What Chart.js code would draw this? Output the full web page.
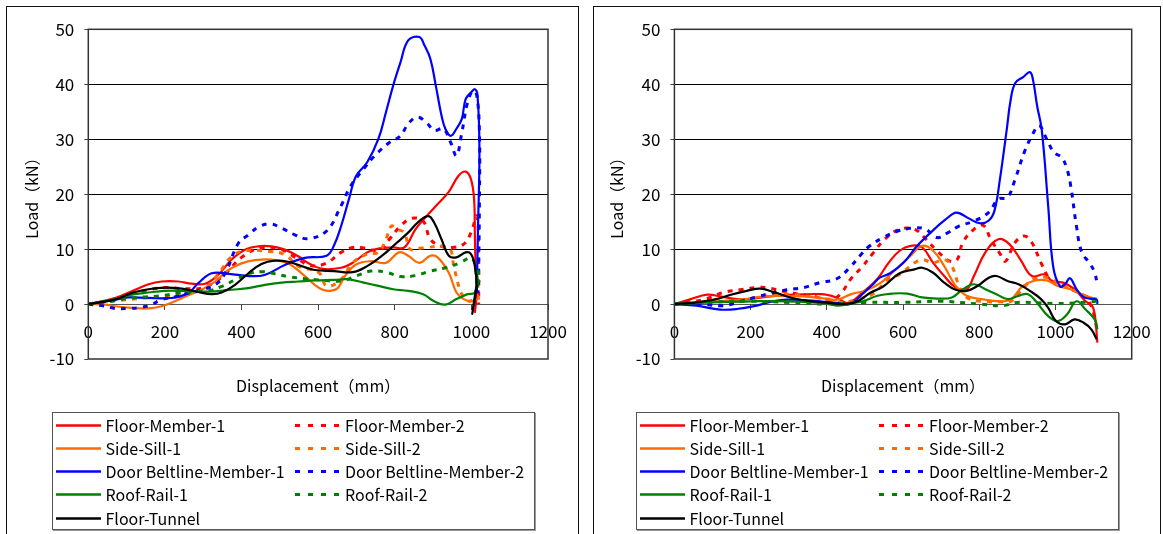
<!DOCTYPE html>
<html>
<head>
<meta charset="utf-8">
<script src="https://cdn.jsdelivr.net/npm/chart.js@4.4.1/dist/chart.umd.min.js"></script>
<style>
  html, body { margin: 0; padding: 0; background: #fff; }
  body { width: 1163px; height: 534px; position: relative; overflow: hidden;
         font-family: "Noto Sans CJK JP", "Noto Sans", sans-serif; }
  .frame { position: absolute; top: 6px; height: 560px; border: 1px solid #111; border-bottom: none; }
  .plot { position: absolute; top: 0; }
  .legend { position: absolute; top: 412px; width: 481px; height: 116px; border: 1px solid #555;
            background: #fff; box-shadow: 1px 1px 0 #999; }
  .item { position: absolute; height: 23px; line-height: 23px; font-size: 16px; color: #000; white-space: nowrap; }
  .item svg { position: absolute; left: 0; top: 0; }
  .item span { position: absolute; top: 0; }
</style>
</head>
<body>
<div class="frame" style="left:6px; width:571px;"></div>
<div class="frame" style="left:593px; width:566px;"></div>
<canvas id="chartLeft" class="plot" width="580" height="450" style="left:0px;"></canvas>
<canvas id="chartRight" class="plot" width="583" height="450" style="left:580px;"></canvas>
<div id="legendLeft" class="legend" style="left:52px;"></div>
<div id="legendRight" class="legend" style="left:636px;"></div>

<script>
// Axis ticks
const displacementTicks = [0, 200, 400, 600, 800, 1000, 1200];
const loadTicks = [-10, 0, 10, 20, 30, 40, 50];

// Series names, colours and line styles
const seriesNames = ['Floor-Member-1', 'Floor-Member-2', 'Side-Sill-1', 'Side-Sill-2',
  'Door Beltline-Member-1', 'Door Beltline-Member-2', 'Roof-Rail-1', 'Roof-Rail-2', 'Floor-Tunnel'];
const seriesColors = ['#ff0000', '#ff0000', '#ff6a00', '#ff6a00', '#0000ff', '#0000ff', '#008000', '#008000', '#000000'];
const seriesDashed = [false, true, false, true, false, true, false, true, false];

// Left chart: [displacement mm, load kN]
const leftFloorMember1 = [[0,0],[70,1.1],[122,2.6],[157,3.6],[191,4.1],[235,4.1],[270,3.7],[305,3.7],[339,5.3],[374,8.1],[409,9.9],[444,10.5],[478,10.5],[513,9.9],[548,8.7],[573,7.5],[612,6.4],[660,6.6],[690,7.5],[728,9.4],[757,10.1],[796,10.3],[825,10.3],[854,13.6],[883,16.0],[912,18.2],[941,20.4],[966,23.3],[985,24.1],[999,22.7],[1007,19.1],[1009,13.0],[1011,6.9],[1014,2.0],[1009,-1.6]];
const leftFloorMember2 = [[0,0],[50,0.6],[100,1.6],[150,2.5],[200,3.0],[250,2.8],[300,3.0],[350,5.0],[400,8.5],[450,10.2],[500,10.0],[540,8.5],[580,7.0],[620,7.4],[660,9.4],[690,10.3],[720,10.2],[760,9.8],[786,11.8],[815,14.2],[844,15.6],[874,15.1],[893,11.8],[922,10.5],[951,10.3],[980,10.9],[999,13.0],[1014,16.0],[1019,8.0],[1019,0]];
const leftSideSill1 = [[0,0],[44,-0.1],[70,-0.4],[113,-0.7],[157,-0.8],[191,-0.4],[226,0.5],[261,1.6],[296,2.6],[331,4.1],[366,6.2],[400,7.4],[435,8.0],[478,8.1],[522,7.4],[557,5.6],[591,3.5],[612,2.6],[631,2.4],[651,2.9],[670,5.1],[699,7.2],[738,7.8],[777,7.5],[811,9.4],[835,8.8],[864,7.5],[893,8.8],[912,8.5],[941,5.7],[961,2.1],[980,0.9],[999,0.5],[1014,0.9]];
const leftSideSill2 = [[0,0],[50,0.5],[100,0.8],[150,1.1],[200,1.3],[250,1.7],[305,2.9],[348,6.3],[366,8.1],[400,9.6],[470,9.6],[513,9.0],[548,6.9],[602,5.7],[622,3.3],[660,4.5],[690,7.5],[728,9.1],[757,9.4],[777,11.8],[791,14.2],[806,13.6],[825,13.0],[840,10.0],[870,10.2],[940,10.2],[955,6.5],[975,1.8],[995,0.5],[1015,1.5],[1020,0.5]];
const leftDoorBeltline1 = [[0,0],[78,0.9],[105,1.2],[217,1.1],[261,2.0],[287,3.8],[322,5.6],[367,5.5],[420,5.1],[460,5.3],[513,7.1],[565,8.4],[622,8.8],[641,10.6],[660,14.2],[680,19.0],[699,23.3],[728,25.8],[757,30.0],[777,34.9],[796,39.8],[815,44.0],[835,48.0],[864,48.6],[878,47.0],[893,44.6],[907,39.8],[922,34.3],[932,31.9],[946,30.6],[961,31.9],[975,33.7],[985,37.3],[999,38.5],[1009,39.1],[1016,38.0],[1021,28.0],[1017,13.0],[1014,2.0]];
const leftDoorBeltline2 = [[0,0],[44,-0.4],[70,-0.8],[104,-0.8],[139,-0.6],[165,-0.1],[191,0.8],[226,1.3],[261,2.0],[296,2.6],[331,3.5],[357,5.6],[392,11.1],[418,12.6],[444,14.0],[474,14.6],[505,13.8],[539,12.6],[573,11.9],[622,13.3],[660,17.9],[685,21.5],[719,24.6],[748,27.0],[786,29.4],[815,30.6],[835,32.8],[859,34.0],[883,33.0],[903,31.6],[927,31.9],[946,29.4],[961,27.0],[975,31.2],[990,36.7],[1004,38.8],[1014,38.0],[1021,31.2],[1021,19.0],[1019,7.0],[1017,2.0]];
const leftRoofRail1 = [[0,0],[70,0.9],[113,1.7],[157,2.1],[200,2.4],[244,2.4],[287,2.3],[331,2.3],[374,2.6],[418,2.9],[461,3.5],[505,3.9],[548,4.1],[591,4.3],[641,4.4],[680,4.5],[719,3.9],[757,3.3],[796,2.7],[835,2.4],[874,1.8],[903,0.5],[932,-0.1],[961,0.9],[990,1.8],[1009,2.1],[1015,5.0],[1018,3.0]];
const leftRoofRail2 = [[0,0],[62,0.5],[104,1.0],[148,1.3],[191,1.5],[235,2.0],[278,2.3],[313,2.4],[348,3.2],[383,4.4],[418,5.5],[452,5.9],[487,5.5],[522,5.0],[565,4.6],[600,4.4],[660,4.2],[699,5.1],[738,6.0],[777,5.8],[815,5.0],[854,5.2],[893,6.0],[932,6.6],[970,7.5],[999,8.4],[1010,7.0],[1014,4.0],[1018,6.0],[1020,4.0]];
const leftFloorTunnel = [[0,0],[70,0.8],[113,2.0],[157,2.7],[200,3.0],[244,2.8],[287,2.2],[322,1.8],[348,2.1],[383,3.5],[418,5.6],[452,7.3],[487,7.9],[522,7.7],[557,6.9],[591,6.2],[641,6.0],[690,5.8],[728,6.9],[767,8.8],[806,11.2],[835,13.0],[864,15.1],[888,16.0],[903,14.8],[922,11.8],[941,8.8],[961,8.5],[985,9.4],[999,9.1],[1009,6.9],[1014,3.3],[1009,0.9],[1002,-1.8],[1008,1.0],[1014,3.5]];

// Right chart: [displacement mm, load kN]
const rightFloorMember1 = [[0,0],[43,0.9],[86,1.7],[120,1.4],[164,0.9],[191,0.9],[240,1.3],[289,1.6],[386,1.8],[425,1.2],[455,0.2],[494,2.1],[533,4.6],[562,7.5],[591,9.7],[620,10.6],[650,10.3],[679,7.5],[708,5.1],[738,3.0],[767,2.7],[786,5.1],[816,9.4],[850,11.8],[879,10.9],[908,8.1],[938,5.1],[972,5.4],[991,4.2],[1020,3.9],[1050,2.7],[1079,0.5],[1099,-0.7],[1110,-7.0]];
const rightFloorMember2 = [[0,0],[43,0.4],[86,1.0],[128,2.1],[173,2.6],[216,3.0],[240,3.0],[299,2.1],[357,1.5],[416,0.9],[440,2.2],[461,4.4],[494,6.9],[523,9.4],[552,11.8],[591,13.6],[630,13.6],[660,11.8],[689,9.7],[723,7.8],[742,8.1],[757,11.2],[786,13.6],[811,14.3],[830,11.8],[855,9.1],[869,7.8],[894,11.2],[918,12.4],[938,11.2],[962,7.5],[986,4.5],[1011,3.6],[1040,2.7],[1069,1.8],[1094,-0.4],[1110,-5.0]];
const rightSideSill1 = [[0,0],[77,0.4],[164,0.7],[234,1.4],[278,1.5],[339,1.4],[382,1.1],[426,0.8],[464,1.8],[503,2.5],[542,3.9],[581,6.3],[620,8.8],[650,10.6],[679,9.7],[708,6.9],[738,3.3],[767,1.5],[806,0.9],[855,0.5],[884,0.9],[913,3.2],[942,4.2],[977,4.3],[1006,3.3],[1040,2.7],[1079,1.5],[1108,0.9]];
const rightSideSill2 = [[0,0],[100,0.3],[200,1.0],[250,1.8],[300,1.8],[400,0.9],[440,0.3],[480,0.9],[520,1.8],[562,4.5],[591,5.4],[630,7.5],[650,8.1],[679,7.5],[708,8.1],[728,6.9],[747,3.3],[767,1.2],[806,0.5],[855,0.4],[884,0.5],[913,2.7],[942,4.5],[981,4.8],[1011,3.6],[1050,2.4],[1089,1.2],[1108,0.9]];
const rightDoorBeltline1 = [[0,0],[58,-0.3],[120,-1.0],[164,-0.9],[216,-0.3],[251,0.4],[295,0.8],[339,0.7],[382,0.5],[426,0.2],[461,0.0],[496,2.0],[520,3.5],[539,4.8],[566,5.6],[601,7.5],[636,10.5],[680,13.5],[710,15.3],[736,16.6],[749,16.5],[775,15.5],[802,14.7],[825,15.2],[840,17.0],[854,22.6],[872,31.7],[882,37.0],[894,40.2],[915,41.3],[933,42.2],[941,40.8],[952,36.0],[964,31.7],[981,17.7],[994,6.8],[1012,3.2],[1025,3.6],[1038,4.7],[1056,2.6],[1073,1.3],[1090,1.0],[1108,0.8],[1110,0.0]];
const rightDoorBeltline2 = [[0,0],[60,0.1],[128,-0.3],[180,0.6],[216,1.3],[251,1.9],[295,2.6],[339,3.0],[382,3.9],[426,4.6],[461,6.7],[487,8.8],[513,10.6],[548,12.1],[583,13.2],[611,13.7],[630,13.9],[660,13.6],[689,12.1],[718,13.0],[747,14.2],[786,15.1],[825,16.7],[850,19.1],[874,19.4],[894,22.7],[918,27.6],[938,30.6],[957,32.5],[977,30.0],[996,27.6],[1016,26.7],[1030,24.6],[1040,21.5],[1055,14.2],[1069,9.4],[1089,7.5],[1103,5.7],[1110,3.3]];
const rightRoofRail1 = [[0,0],[100,0.3],[200,0.5],[300,0.5],[400,0.1],[430,-0.3],[470,0.2],[494,0.5],[533,1.5],[572,1.9],[611,1.9],[650,1.2],[689,1.0],[728,1.2],[757,2.7],[786,3.6],[816,2.7],[845,1.8],[874,0.9],[903,1.5],[928,1.8],[952,0.2],[981,-2.2],[1006,-3.1],[1030,-1.9],[1055,0.5],[1079,-1.0],[1103,-2.8],[1110,-4.6]];
const rightRoofRail2 = [[0,0],[100,0.4],[200,0.5],[300,0.3],[400,0.0],[500,0.3],[600,0.3],[700,0.5],[800,0.0],[860,-0.3],[900,0.3],[1000,0.1],[1050,0.2],[1110,0.5]];
const rightFloorTunnel = [[0,0],[43,0.2],[104,0.8],[148,1.7],[190,2.4],[225,2.8],[260,2.2],[304,1.2],[347,0.6],[391,0.3],[443,0.0],[478,0.4],[513,2.0],[548,3.2],[591,5.6],[630,6.3],[650,6.6],[679,5.7],[708,3.9],[738,2.6],[767,2.4],[796,3.3],[825,4.8],[845,5.1],[874,4.2],[903,3.6],[933,2.4],[962,0.9],[981,-0.7],[1001,-3.1],[1025,-3.7],[1050,-2.8],[1074,-3.4],[1094,-4.6],[1108,-6.4]];

const leftSeries = [leftFloorMember1, leftFloorMember2, leftSideSill1, leftSideSill2,
  leftDoorBeltline1, leftDoorBeltline2, leftRoofRail1, leftRoofRail2, leftFloorTunnel];
const rightSeries = [rightFloorMember1, rightFloorMember2, rightSideSill1, rightSideSill2,
  rightDoorBeltline1, rightDoorBeltline2, rightRoofRail1, rightRoofRail2, rightFloorTunnel];

const FONT = '"Noto Sans CJK JP", "Noto Sans", sans-serif';

// Frame around the plotting area
const plotFrame = {
  id: 'plotFrame',
  beforeDatasetsDraw(chart) {
    const a = chart.chartArea, ctx = chart.ctx;
    ctx.save();
    ctx.strokeStyle = '#333';
    ctx.lineWidth = 1.5;
    ctx.strokeRect(a.left, a.top, a.right - a.left, a.bottom - a.top);
    ctx.restore();
  }
};

function makeChart(canvasId, series, geom) {
  const datasets = series.map((pts, i) => ({
    label: seriesNames[i],
    data: pts.map(([x, y]) => ({ x, y })),
    borderColor: seriesColors[i],
    backgroundColor: seriesColors[i],
    borderWidth: seriesDashed[i] ? 3 : 2.2,
    borderDash: seriesDashed[i] ? [5, 6] : [],
    pointRadius: 0,
    tension: 0.4,
    fill: false,
    order: series.length - 1 - i
  }));
  return new Chart(document.getElementById(canvasId), {
    type: 'line',
    data: { datasets },
    plugins: [plotFrame],
    options: {
      responsive: false,
      animation: false,
      events: [],
      // the x axis sits on load 0, so the space below the plot is reserved here
      layout: { padding: { left: 0, right: geom.padRight, top: 29.3, bottom: 91 } },
      plugins: { legend: { display: false }, tooltip: { enabled: false } },
      scales: {
        x: {
          type: 'linear',
          position: { y: 0 },
          min: 0, max: 1200,
          afterBuildTicks: s => { s.ticks = displacementTicks.map(v => ({ value: v })); },
          afterFit: s => { s.height = 91; },
          grid: { drawOnChartArea: false, drawTicks: true, tickLength: 5, color: '#444' },
          border: { display: true, color: '#555', width: 1 },
          ticks: { padding: 12, color: '#000', font: { family: FONT, size: 17 },
                   callback: v => String(v), maxRotation: 0, autoSkip: false },
          title: { display: true, text: 'Displacement（mm）', color: '#000',
                   font: { family: FONT, size: 16 }, padding: { top: 0, bottom: 0 } }
        },
        y: {
          type: 'linear',
          position: 'left',
          min: -10, max: 50,
          afterBuildTicks: s => { s.ticks = loadTicks.map(v => ({ value: v })); },
          afterFit: s => { s.width = geom.yWidth; },
          grid: {
            color: c => (c.tick && c.tick.value > 0 && c.tick.value < 50) ? '#000' : 'rgba(0,0,0,0)',
            tickColor: '#444', lineWidth: 1, tickLength: 4
          },
          border: { display: false },
          ticks: { padding: 10, color: '#000', font: { family: FONT, size: 17 }, callback: v => String(v) },
          title: { display: true, text: 'Load（kN）', color: '#000',
                   font: { family: FONT, size: 16 }, padding: { top: geom.titlePad, bottom: 0 } }
        }
      }
    }
  });
}

makeChart('chartLeft', leftSeries, { yWidth: 88.3, padRight: 32, titlePad: 22, });
makeChart('chartRight', rightSeries, { yWidth: 94.4, padRight: 31.3, titlePad: 27.4 });

// Two-column legend: first runs in the left column, second runs in the right column
function buildLegend(el) {
  const columns = [[0, 2, 4, 6, 8], [1, 3, 5, 7]];
  const sampleLeft = [3, 242], textLeft = [52.5, 292];
  columns.forEach((col, c) => col.forEach((si, r) => {
    const item = document.createElement('div');
    item.className = 'item';
    item.style.left = '0px';
    item.style.top = (0.5 + r * 23.3) + 'px';
    const dash = seriesDashed[si] ? ' stroke-dasharray="5 8"' : '';
    const w = seriesDashed[si] ? 3 : 2.5;
    item.innerHTML =
      '<svg width="45" height="23" style="left:' + sampleLeft[c] + 'px"><line x1="0" y1="11.5" x2="45" y2="11.5" stroke="' +
      seriesColors[si] + '" stroke-width="' + w + '"' + dash + '/></svg>' +
      '<span style="left:' + textLeft[c] + 'px">' + seriesNames[si] + '</span>';
    el.appendChild(item);
  }));
}
buildLegend(document.getElementById('legendLeft'));
buildLegend(document.getElementById('legendRight'));
</script>
</body>
</html>
